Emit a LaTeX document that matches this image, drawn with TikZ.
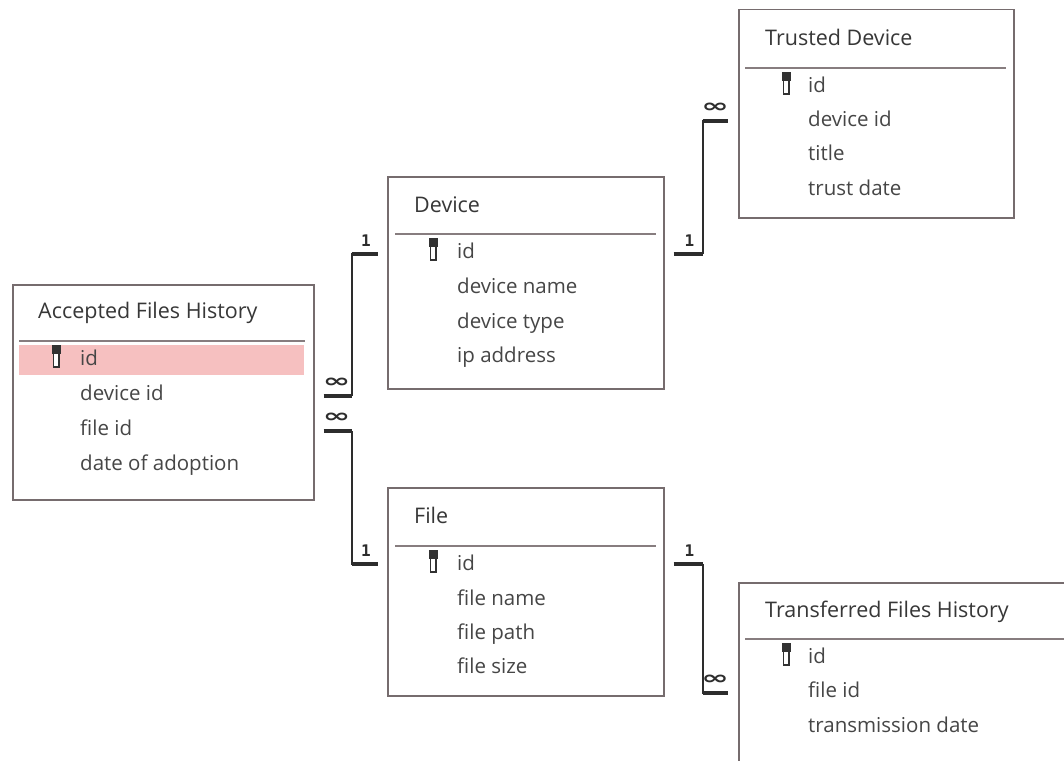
\documentclass[tikz,border=0pt]{standalone}
\usepackage{graphicx}
\usepackage{fontspec}
\setmainfont{Open Sans}
\newfontfamily\symfont{DejaVu Sans}
\newfontfamily\monofont{DejaVu Sans Mono}
\usetikzlibrary{calc}
\definecolor{boxc}{RGB}{118,108,110}
\definecolor{sepc}{RGB}{135,125,127}
\definecolor{txtc}{RGB}{70,70,70}
\definecolor{titc}{RGB}{55,55,55}
\definecolor{linec}{RGB}{45,45,45}
\definecolor{pkc}{RGB}{246,192,192}
\definecolor{keyc}{RGB}{50,50,50}
\tikzset{
  tbl/.style={draw=boxc, line width=1.5pt, fill=white, anchor=north west, inner sep=0pt},
  tbltitle/.style={anchor=west, text=titc, inner sep=0pt, font=\fontsize{21.5}{24}\selectfont, text height=15pt, text depth=4pt},
  field/.style={anchor=west, text=txtc, inner sep=0pt, font=\fontsize{20.5}{24}\selectfont, text height=15pt, text depth=4pt},
  sepline/.style={draw=sepc, line width=2pt},
  rel/.style={draw=linec, line width=2pt},
  stub/.style={draw=linec, line width=4.5pt},
  onelbl/.style={inner sep=0pt, text=linec, font=\monofont\bfseries\fontsize{16}{16}\selectfont},
  manylbl/.style={inner sep=0pt, text=linec, font=\symfont\bfseries\fontsize{22}{22}\selectfont}
}
\newcommand{\manysym}{\scalebox{1.5}[0.85]{∞}}
\newcommand{\keyicon}[2]{%
  \draw[draw=keyc, line width=1.8pt, fill=white] (#1-2.6,#2-7) rectangle (#1+2.6,#2+7);
  \draw[fill=keyc, draw=keyc, line width=0.6pt] (#1-3.8,#2-15) rectangle (#1+3.8,#2-7);
}
\begin{document}
\begin{tikzpicture}[x=1pt,y=-1pt]
\useasboundingbox (0,0) rectangle (1064,760);
\fill[white] (0,0) rectangle (1064,760);
\clip (0,0) rectangle (1064,760);

% ---------- Accepted Files History ----------
\node[tbl, minimum width=301pt, minimum height=215pt] (afh) at (12,284) {};
\fill[pkc] (19,345) rectangle (304,375);
\node[tbltitle] (afht) at (38,313) {Accepted Files History};
\draw[sepline] (19,341) -- (305,341);
\keyicon{56}{360}
\node[field] (afh1) at (80,360) {id};
\node[field] (afh2) at (80,395) {device id};
\node[field] (afh3) at (80,430) {file id};
\node[field] (afh4) at (80,465) {date of adoption};

% ---------- Device ----------
\node[tbl, minimum width=276pt, minimum height=212pt] (dev) at (387,176) {};
\node[tbltitle] (devt) at (414,207) {Device};
\draw[sepline] (395,234) -- (656,234);
\keyicon{433}{253}
\node[field] (dev1) at (457,253) {id};
\node[field] (dev2) at (457,288) {device name};
\node[field] (dev3) at (457,323) {device type};
\node[field] (dev4) at (457,357) {ip address};

% ---------- Trusted Device ----------
\node[tbl, minimum width=275pt, minimum height=208pt] (td) at (738,9) {};
\node[tbltitle] (tdt) at (765,40) {Trusted Device};
\draw[sepline] (745,68) -- (1006,68);
\keyicon{786}{87}
\node[field] (td1) at (808,87) {id};
\node[field] (td2) at (808,121) {device id};
\node[field] (td3) at (808,155) {title};
\node[field] (td4) at (808,190) {trust date};

% ---------- File ----------
\node[tbl, minimum width=276pt, minimum height=208pt] (file) at (387,487) {};
\node[tbltitle] (filet) at (414,518) {File};
\draw[sepline] (395,546) -- (656,546);
\keyicon{433}{565}
\node[field] (file1) at (457,565) {id};
\node[field] (file2) at (457,600) {file name};
\node[field] (file3) at (457,634) {file path};
\node[field] (file4) at (457,668) {file size};

% ---------- Transferred Files History ----------
\node[tbl, minimum width=400pt, minimum height=260pt] (tfh) at (738,582) {};
\node[tbltitle] (tfht) at (765,612) {Transferred Files History};
\draw[sepline] (745,639) -- (1080,639);
\keyicon{786}{658}
\node[field] (tfh1) at (808,658) {id};
\node[field] (tfh2) at (808,692) {file id};
\node[field] (tfh3) at (808,727) {transmission date};

% ---------- connector end points ----------
\coordinate (a1) at ($(afh.east |- afh2)+(9,1)$);
\coordinate (a1e) at ($(afh.east |- afh2)+(37,1)$);
\coordinate (d1) at ($(dev.west |- dev1)+(-9,1)$);

\coordinate (a2) at ($(afh.east |- afh3)+(9,1)$);
\coordinate (a2e) at ($(afh.east |- afh3)+(37,1)$);
\coordinate (f1) at ($(file.west |- file1)+(-9,-1)$);

\coordinate (d2) at ($(dev.east |- dev1)+(9,1)$);
\coordinate (d2e) at ($(dev.east |- dev1)+(38,1)$);
\coordinate (t1) at ($(td.west |- td2)+(-10,0)$);

\coordinate (f2) at ($(file.east |- file1)+(9,-1)$);
\coordinate (f2e) at ($(file.east |- file1)+(38,-1)$);
\coordinate (r1) at ($(tfh.west |- tfh2)+(-10,1)$);

% ---------- connectors ----------
\draw[rel] (a1e) |- (d1);
\draw[stub] (a1) -- (a1e);
\draw[stub] (a1e |- d1) -- (d1);
\node[manylbl] (m1) at ($(a1)+(13,-13)$) {\manysym};
\node[onelbl] (o1) at ($(d1)+(-12,-13)$) {1};

\draw[rel] (a2e) |- (f1);
\draw[stub] (a2) -- (a2e);
\draw[stub] (a2e |- f1) -- (f1);
\node[manylbl] (m2) at ($(a2)+(13,-13)$) {\manysym};
\node[onelbl] (o2) at ($(f1)+(-12,-13)$) {1};

\draw[rel] (d2e) |- (t1);
\draw[stub] (d2) -- (d2e);
\draw[stub] (d2e |- t1) -- (t1);
\node[onelbl] (o3) at ($(d2)+(16,-13)$) {1};
\node[manylbl] (m3) at ($(t1)+(-13,-13)$) {\manysym};

\draw[rel] (f2e) |- (r1);
\draw[stub] (f2) -- (f2e);
\draw[stub] (f2e |- r1) -- (r1);
\node[onelbl] (o4) at ($(f2)+(16,-13)$) {1};
\node[manylbl] (m4) at ($(r1)+(-13,-13)$) {\manysym};
\end{tikzpicture}
\end{document}
